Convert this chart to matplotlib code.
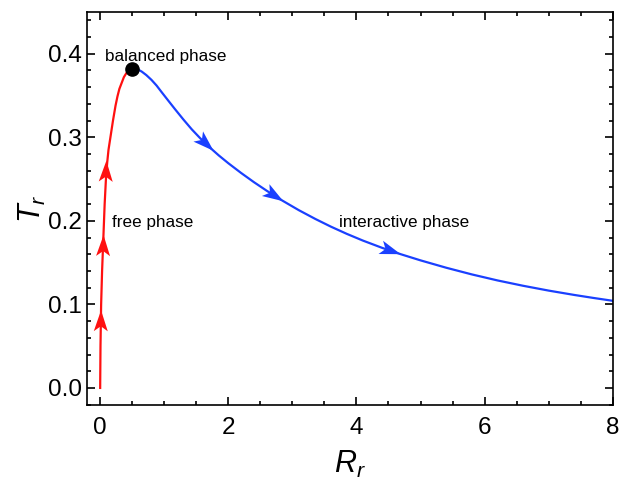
import matplotlib
matplotlib.use("Agg")
import numpy as np
import matplotlib.pyplot as plt
from matplotlib.patches import Polygon
from matplotlib.ticker import MultipleLocator, FormatStrFormatter
from matplotlib.transforms import IdentityTransform

plt.rcParams['font.family'] = ['Liberation Sans', 'DejaVu Sans']
plt.rcParams['mathtext.fontset'] = 'custom'
plt.rcParams['mathtext.it'] = 'Liberation Sans:italic'
plt.rcParams['mathtext.rm'] = 'Liberation Sans'

# free phase (red)
red_R = [0.0, 0.005, 0.015, 0.03, 0.05, 0.07, 0.09, 0.11, 0.13, 0.16, 0.20, 0.24, 0.27, 0.30, 0.34,
         0.37, 0.41, 0.44, 0.47, 0.50]
red_T = [0.0, 0.05, 0.10, 0.14, 0.18, 0.22, 0.25, 0.27, 0.285, 0.30, 0.32, 0.338, 0.349, 0.358, 0.366,
         0.372, 0.377, 0.380, 0.381, 0.382]

# interactive phase (blue)
blue_R = [0.50, 0.55, 0.60, 0.65, 0.72, 0.80, 0.88, 0.96, 1.06, 1.17, 1.30, 1.43, 1.56, 1.70, 1.85,
          2.00, 2.20, 2.40, 2.60, 2.84, 3.10, 3.36, 3.60, 3.85, 4.10, 4.40, 4.69, 5.00, 5.40, 5.80,
          6.20, 6.60, 7.00, 7.40, 7.70, 8.00]
blue_T = [0.3820, 0.3818, 0.3808, 0.3786, 0.3745, 0.3688, 0.3620, 0.3540, 0.3442, 0.3335, 0.3212,
          0.3095, 0.2990, 0.2886, 0.2784, 0.2690, 0.2573, 0.2463, 0.2360, 0.2244, 0.2128, 0.2022,
          0.1931, 0.1844, 0.1764, 0.1677, 0.1601, 0.1527, 0.1439, 0.1359, 0.1287, 0.1223, 0.1165,
          0.1113, 0.1077, 0.1043]

balanced_point = (0.50, 0.382)

# arrow tips along curves and a point behind each tip (gives direction)
red_arrow_tips = [(0.014, 0.093), (0.053, 0.183), (0.097, 0.272)]
red_arrow_tails = [(0.010, 0.07), (0.046, 0.16), (0.088, 0.25)]
blue_arrow_tips = [(1.77, 0.2838), (2.86, 0.2234), (4.69, 0.1601)]
blue_arrow_tails = [(1.60, 0.2960), (2.66, 0.2331), (4.45, 0.1664)]

labels = [("balanced phase", 0.08, 0.397), ("free phase", 0.19, 0.198), ("interactive phase", 3.72, 0.198)]

fig = plt.figure(figsize=(6.33, 4.8), dpi=100)
ax = fig.add_axes([0.138, 0.157, 0.830, 0.818])

red = '#ff1010'
blue = '#1a40ff'
ax.plot(red_R, red_T, color=red, lw=1.6)
ax.plot(blue_R, blue_T, color=blue, lw=1.6)
ax.plot(*balanced_point, 'o', color='black', ms=9.5, zorder=5)

ax.set_xlim(-0.2, 8.0)
ax.set_ylim(-0.02, 0.45)


def arrowhead(tip, tail, color, L=21, W=7, notch=5):
    p1 = ax.transData.transform(tip)
    p0 = ax.transData.transform(tail)
    d = p1 - p0
    d = d / np.hypot(*d)
    n = np.array([-d[1], d[0]])
    pts = [p1,
           p1 - L * d + W * n,
           p1 - (L - notch) * d,
           p1 - L * d - W * n]
    ax.add_patch(Polygon(pts, closed=True, transform=IdentityTransform(), facecolor=color,
                         edgecolor='none', zorder=4))


for tp, tl in zip(red_arrow_tips, red_arrow_tails):
    arrowhead(tp, tl, red)
for tp, tl in zip(blue_arrow_tips, blue_arrow_tails):
    arrowhead(tp, tl, blue)

for s, x, y in labels:
    ax.text(x, y, s, fontsize=12.3, ha='left', va='center')

ax.xaxis.set_major_locator(MultipleLocator(2))
ax.xaxis.set_minor_locator(MultipleLocator(0.5))
ax.yaxis.set_major_locator(MultipleLocator(0.1))
ax.yaxis.set_minor_locator(MultipleLocator(0.02))
ax.tick_params(which='both', direction='in', top=True, right=True, labelsize=17.5, width=1.2)
ax.tick_params(axis='x', which='both', pad=9)
ax.tick_params(axis='y', which='both', pad=4)
ax.tick_params(which='major', length=6)
ax.tick_params(which='minor', length=3)
ax.yaxis.set_major_formatter(FormatStrFormatter('%.1f'))
for sp in ax.spines.values():
    sp.set_linewidth(1.2)

ax.set_xlabel(r'$R_r$', fontsize=22, labelpad=7)
ax.set_ylabel(r'$T_r$', fontsize=22, labelpad=0)

fig.savefig('out.png', dpi=100)
